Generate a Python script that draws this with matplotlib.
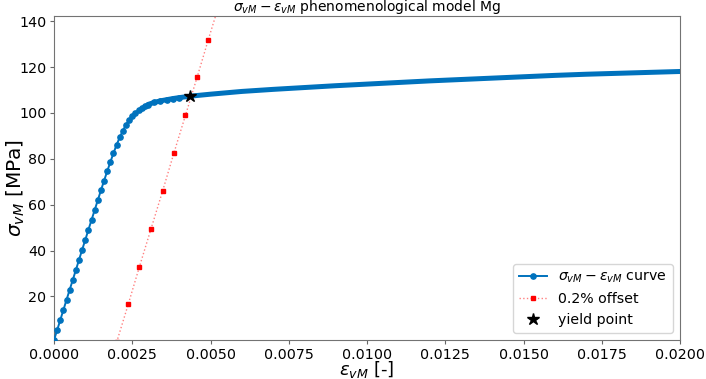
import numpy as np
import matplotlib
matplotlib.use("Agg")
import matplotlib.pyplot as plt

# von Mises strain / stress
strain_vm = [0.0000, 0.0001, 0.0002, 0.0003, 0.0004, 0.0005, 0.0006, 0.0007, 0.0008,
             0.0009, 0.0010, 0.0011, 0.0012, 0.0013, 0.0014, 0.0015, 0.0016, 0.0017,
             0.0018, 0.0019, 0.0020, 0.0021, 0.0022, 0.0023, 0.0024, 0.0025,
             0.0026, 0.0027, 0.0028, 0.0029, 0.0030, 0.0032, 0.0034, 0.0036, 0.0038,
             0.0040, 0.0044, 0.0050, 0.0060, 0.0070, 0.0080, 0.0090, 0.0100, 0.0110,
             0.0120, 0.0130, 0.0140, 0.0150, 0.0160, 0.0170, 0.0180, 0.0190, 0.0200]
stress_vm = [1.0, 5.3, 9.7, 14.1, 18.5, 22.9, 27.2, 31.6, 36.0,
             40.4, 44.7, 49.1, 53.4, 57.7, 62.0, 66.3, 70.5, 74.6,
             78.6, 82.5, 86.1, 89.4, 92.3, 94.9, 97.0, 98.7,
             100.0, 101.2, 102.2, 103.0, 103.7, 104.6, 105.3, 105.8, 106.3,
             106.7, 107.4, 108.2, 109.4, 110.3, 111.1, 111.9, 112.6, 113.3,
             114.0, 114.6, 115.2, 115.8, 116.4, 116.9, 117.3, 117.7, 118.1]
n_marked = 36   # separate markers visible up to here, then a dense band
n_band = 30

# 0.2% offset line
offset_strain = [0.00200, 0.00237, 0.00273, 0.00310, 0.00347, 0.00383, 0.00420,
                 0.00457, 0.00493, 0.00530, 0.00567]
offset_stress = [0.0, 16.5, 33.0, 49.5, 66.0, 82.5, 99.0, 115.5, 132.0, 148.5, 165.0]

yield_strain = 0.00436
yield_stress = 107.4

blue = '#0072BD'

fig = plt.figure(figsize=(7.06, 3.79), dpi=100)
ax = fig.add_axes([0.0765, 0.1029, 0.8867, 0.8549])

ax.plot(strain_vm, stress_vm, '-o', color=blue, lw=1.4, ms=3.8,
        markevery=list(range(n_marked)),
        label=r'$\sigma_{vM}-\varepsilon_{vM}$ curve', zorder=3)
ax.plot(strain_vm[n_band:], stress_vm[n_band:], '-', color=blue,
        lw=3.6, solid_capstyle='round', zorder=3)
ax.plot(offset_strain, offset_stress, ':s', color=(1, 0, 0, 0.5), lw=1.0, ms=2.2,
        mfc='red', mec='red', label='0.2% offset', zorder=2)
ax.plot(yield_strain, yield_stress, '*', color='black', ms=9, ls='none',
        label='yield point', zorder=4)

ax.set_xlim(0, 0.02)
ax.set_ylim(1, 142.3)
ax.set_xticks([0, 0.0025, 0.005, 0.0075, 0.01, 0.0125, 0.015, 0.0175, 0.02])
ax.set_xticklabels(['0.0000', '0.0025', '0.0050', '0.0075', '0.0100', '0.0125',
                    '0.0150', '0.0175', '0.0200'])
ax.set_yticks([20, 40, 60, 80, 100, 120, 140])
ax.tick_params(labelsize=10.3, color='0.4', length=3, width=0.8, pad=2.5)
for s in ax.spines.values():
    s.set_color('0.45')
    s.set_linewidth(0.8)

ax.set_xlabel(r'$\varepsilon_{vM}$ [-]', fontsize=13)
ax.set_ylabel(r'$\sigma_{vM}$ [MPa]', fontsize=14.5)
ax.xaxis.set_label_coords(0.5, -0.06)
ax.yaxis.set_label_coords(-0.043, 0.47)
ax.set_title(r'$\sigma_{vM}-\varepsilon_{vM}$ phenomenological model Mg',
             fontsize=10, pad=0.5)
ax.legend(loc='lower right', fontsize=10.2)

fig.savefig('out.png', dpi=100)
